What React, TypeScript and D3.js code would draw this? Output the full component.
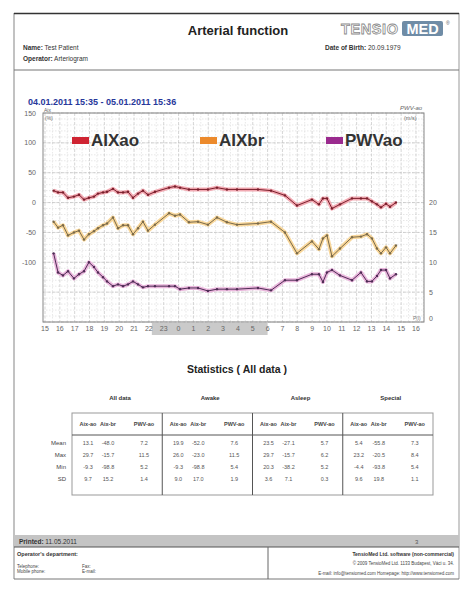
import React from "react";
import * as d3 from "d3";

// ---- Data ----
// hours since midnight of 04.01.2011
const times = [15.58, 15.88, 16.21, 16.55, 16.95, 17.29, 17.63, 17.96, 18.3, 18.57, 18.91, 19.18, 19.58, 19.92, 20.26, 20.59, 20.93, 21.27, 21.6, 21.94, 22.41, 23.36, 23.76, 24.1, 24.7, 25.31, 25.98, 26.59, 27.26, 27.94, 29.35, 30.23, 31.17, 31.98, 32.99, 33.46, 33.73, 34.0, 34.34, 34.88, 35.69, 36.29, 36.7, 37.03, 37.37, 37.64, 37.98, 38.25, 38.65];
const aixAo = [20, 17, 17, 8, 10, 13, 5, 8, 10, 15, 17, 18, 23, 17, 17, 18, 8, 15, 20, 13, 18, 25, 27, 25, 22, 22, 22, 25, 22, 22, 22, 20, 12, -5, 5, -3, 7, 7, -10, -3, 7, 7, 7, 2, -3, -8, -2, -7, 0];
const aixBr = [-32, -42, -38, -55, -50, -47, -62, -53, -48, -43, -38, -35, -25, -43, -38, -38, -53, -43, -32, -47, -37, -18, -22, -20, -33, -32, -37, -25, -33, -37, -35, -32, -50, -85, -65, -78, -60, -55, -90, -77, -58, -57, -53, -60, -77, -85, -75, -85, -72];
const pwvAo = [11.5, 8.3, 7.8, 8.5, 7.3, 8.0, 8.5, 10.0, 9.2, 8.3, 7.5, 6.8, 6.0, 6.3, 6.0, 6.3, 6.8, 6.3, 5.8, 6.0, 6.0, 6.0, 6.0, 5.5, 5.7, 5.7, 5.2, 5.5, 5.5, 5.5, 5.7, 5.3, 7.0, 7.0, 8.0, 8.0, 6.7, 8.3, 8.7, 7.8, 7.0, 8.3, 6.8, 6.8, 7.7, 8.7, 8.7, 7.3, 8.0];

const leftTicks = [150, 100, 50, 0, -50, -100];
const rightTicks = [20, 15, 10, 5, 0];
const hourTicks = d3.range(15, 41);
const nightBand = [22.2, 30.0];

const seriesNames = ["AIXao", "AIXbr", "PWVao"];
const statGroups = ["All data", "Awake", "Asleep", "Special"];
const statCols = ["Aix-ao", "Aix-br", "PWV-ao"];
const statRows = ["Mean", "Max", "Min", "SD"];
const statAllData = [["13.1", "-48.0", "7.2"], ["29.7", "-15.7", "11.5"], ["-9.3", "-98.8", "5.2"], ["9.7", "15.2", "1.4"]];
const statAwake = [["19.9", "-52.0", "7.6"], ["26.0", "-23.0", "11.5"], ["-9.3", "-98.8", "5.4"], ["9.0", "17.0", "1.9"]];
const statAsleep = [["23.5", "-27.1", "5.7"], ["29.7", "-15.7", "6.2"], ["20.3", "-38.2", "5.2"], ["3.6", "7.1", "0.3"]];
const statSpecial = [["5.4", "-55.8", "7.3"], ["23.2", "-20.5", "8.4"], ["-4.4", "-93.8", "5.4"], ["9.6", "19.8", "1.1"]];

const FONT = "'Liberation Sans', Arial, sans-serif";

export default function App() {
  const W = 476, H = 603;
  const pl = 43, pr = 424, pt = 113, pb = 322;
  const x = d3.scaleLinear().domain([14.865, 40.54]).range([pl, pr]);
  const yL = d3.scaleLinear().domain([-200, 150]).range([pb, pt]);
  const yR = d3.scaleLinear().domain([0, 35]).range([pb, pt]);

  const mk = (vals: number[], sc: d3.ScaleLinear<number, number>) =>
    d3.line<number>().x((_, i) => x(times[i])).y((v) => sc(v))(vals) || "";

  const series = [
    { vals: aixAo, sc: yL, halo: "#f2a9b2", line: "#7a1f2c", legend: "#cf2432" },
    { vals: aixBr, sc: yL, halo: "#f9d79a", line: "#7a6a4a", legend: "#ec8a2c" },
    { vals: pwvAo, sc: yR, halo: "#eab6dc", line: "#4f2c55", legend: "#9a2a8e" },
  ];
  const legendX = [72, 200, 326];

  const minorY = d3.range(-200, 151, 10);
  const majorY = d3.range(-200, 151, 50);
  const halfHours = d3.range(15, 40.6, 0.5);

  const groupStats = [statAllData, statAwake, statAsleep, statSpecial];
  const tl = 72, tr = 433, tt = 413, tb = 495, th = 435;
  const gw = (tr - tl) / 4;
  const colOff = [16, 36, 72];
  const rowY = [443, 455, 467, 479];

  return (
    <svg width={W} height={H} style={{ position: "absolute", left: 0, top: 0, background: "#fff" }} fontFamily={FONT}>
      <rect x={0} y={0} width={W} height={H} fill="#fff" />
      {/* page frame */}
      <line x1={14} x2={14} y1={13} y2={579} stroke="#999" strokeWidth={1.2} />
      <line x1={459} x2={459} y1={13} y2={579} stroke="#aaa" strokeWidth={1.2} />
      <line x1={14} x2={459} y1={13.5} y2={13.5} stroke="#333" strokeWidth={1.5} />
      <line x1={14} x2={459} y1={70} y2={70} stroke="#777" strokeWidth={1.2} />

      {/* header */}
      <text x={238} y={35} textAnchor="middle" fontSize={13} fontWeight="bold" fill="#222">Arterial function</text>
      <text x={341} y={34} fontSize={14.5} fontWeight="bold" fill="#fff" stroke="#8a8a8a" strokeWidth={0.8} letterSpacing={0.6}>TENSIO</text>
      <rect x={402} y={21} width={41} height={15} rx={2} fill="#6f8ca6" />
      <text x={422.5} y={34} textAnchor="middle" fontSize={14.5} fontWeight="bold" fill="#fff">MED</text>
      <text x={446} y={25} fontSize={5} fill="#555">®</text>
      <text x={23} y={50} fontSize={6.5} fill="#333"><tspan fontWeight="bold">Name:</tspan> Test Patient</text>
      <text x={23} y={61} fontSize={6.5} fill="#333"><tspan fontWeight="bold">Operator:</tspan> Arteriogram</text>
      <text x={325} y={50} fontSize={6.5} fill="#333"><tspan fontWeight="bold">Date of Birth:</tspan> 20.09.1979</text>

      {/* chart title */}
      <text x={28} y={105} fontSize={9} fontWeight="bold" fill="#27379a">04.01.2011 15:35 - 05.01.2011 15:36</text>

      {/* grid */}
      {minorY.map((v) => (
        <line key={"my" + v} x1={pl} x2={pr} y1={yL(v)} y2={yL(v)} stroke="#d6d6d6" strokeWidth={0.6} strokeDasharray="1.5,1.5" />
      ))}
      {halfHours.map((h) => (
        <line key={"hx" + h} x1={x(h)} x2={x(h)} y1={pt} y2={pb} stroke={Number.isInteger(h) ? "#c4c4c4" : "#dedede"} strokeWidth={0.7} strokeDasharray={Number.isInteger(h) ? "3,1.5" : "1.5,1.5"} />
      ))}
      {majorY.map((v) => (
        <line key={"My" + v} x1={pl} x2={pr} y1={yL(v)} y2={yL(v)} stroke="#bdbdbd" strokeWidth={0.7} strokeDasharray="3,1.5" />
      ))}
      <rect x={pl} y={pt} width={pr - pl} height={pb - pt} fill="none" stroke="#888" strokeWidth={1} />

      {/* axis labels */}
      <text x={44} y={112} fontSize={5} fill="#666">Aix</text>
      <text x={45} y={120} fontSize={5} fill="#666">(%)</text>
      <text x={400} y={110} fontSize={6} fill="#666" fontStyle="italic">PWV-ao</text>
      <text x={404} y={120} fontSize={5.5} fill="#666">(m/s)</text>
      {leftTicks.map((v) => (
        <text key={"lt" + v} x={36} y={yL(v) + 2.5} textAnchor="end" fontSize={7} fill="#666">{v}</text>
      ))}
      {rightTicks.map((v) => (
        <text key={"rt" + v} x={429} y={(v === 0 ? yR(v) - 4 : yR(v)) + 2.5} fontSize={7} fill="#666">{v}</text>
      ))}
      <text x={413} y={320} fontSize={5} fill="#777">P(l)</text>

      {/* night band and hour labels */}
      <rect x={x(nightBand[0])} y={323} width={x(nightBand[1]) - x(nightBand[0])} height={12} fill="#cacaca" />
      {hourTicks.map((h) => (
        <text key={"ht" + h} x={x(h)} y={331} textAnchor="middle" fontSize={7} fill="#666">{h % 24}</text>
      ))}

      {/* series */}
      {series.map((s, k) => (
        <g key={"s" + k}>
          <path d={mk(s.vals, s.sc)} fill="none" stroke={s.halo} strokeWidth={4} strokeLinejoin="round" />
          <path d={mk(s.vals, s.sc)} fill="none" stroke={s.line} strokeWidth={1} strokeLinejoin="round" />
          {s.vals.map((v, i) => (
            <circle key={i} cx={x(times[i])} cy={s.sc(v)} r={1.2} fill={s.line} />
          ))}
        </g>
      ))}

      {/* legend */}
      {seriesNames.map((n, k) => (
        <g key={"lg" + n}>
          <rect x={legendX[k]} y={137} width={17} height={7} fill={series[k].legend} />
          <text x={legendX[k] + 19} y={146} fontSize={17} fontWeight="bold" fill="#333">{n}</text>
        </g>
      ))}

      {/* statistics */}
      <text x={237} y={373} textAnchor="middle" fontSize={10.5} fontWeight="bold" fill="#222">Statistics ( All data )</text>
      {statGroups.map((g, k) => (
        <text key={"g" + g} x={tl + gw * k + 48} y={400} textAnchor="middle" fontSize={6} fontWeight="bold" fill="#333">{g}</text>
      ))}
      <rect x={tl} y={tt} width={tr - tl} height={tb - tt} fill="none" stroke="#999" strokeWidth={1} />
      <line x1={tl} x2={tr} y1={th} y2={th} stroke="#555" strokeWidth={1} />
      {[1, 2, 3].map((k) => (
        <line key={"gd" + k} x1={tl + gw * k} x2={tl + gw * k} y1={tt} y2={tb} stroke="#555" strokeWidth={1} />
      ))}
      {statGroups.map((g, k) => (
        <g key={"cols" + g}>
          {statCols.map((c, j) => (
            <text key={c} x={tl + gw * k + colOff[j]} y={426} textAnchor="middle" fontSize={5.5} fontWeight="bold" fill="#444">{c}</text>
          ))}
          {groupStats[k].map((row, r) =>
            row.map((val, j) => (
              <text key={r + "-" + j} x={tl + gw * k + colOff[j]} y={rowY[r] + 2} textAnchor="middle" fontSize={5.5} fill="#555">{val}</text>
            ))
          )}
        </g>
      ))}
      {statRows.map((r, i) => (
        <text key={"rl" + r} x={66} y={rowY[i] + 2} textAnchor="end" fontSize={6} fill="#444">{r}</text>
      ))}

      {/* footer */}
      <rect x={14} y={535} width={445} height={12} fill="#c4c4c4" />
      <line x1={14} x2={459} y1={547} y2={547} stroke="#555" strokeWidth={1} />
      <line x1={14} x2={459} y1={579} y2={579} stroke="#777" strokeWidth={1} />
      <line x1={268} x2={268} y1={547} y2={579} stroke="#666" strokeWidth={1} />
      <text x={19} y={544} fontSize={6.5} fill="#333"><tspan fontWeight="bold">Printed:</tspan> 11.05.2011</text>
      <text x={415} y={544} fontSize={6} fill="#555">3</text>
      <text x={17} y={556} fontSize={5.5} fontWeight="bold" fill="#333">Operator's department:</text>
      <text x={17} y={568} fontSize={4.5} fill="#444">Telephone:</text>
      <text x={82} y={568} fontSize={4.5} fill="#444">Fax:</text>
      <text x={17} y={573} fontSize={4.5} fill="#444">Mobile phone:</text>
      <text x={82} y={573} fontSize={4.5} fill="#444">E-mail:</text>
      <text x={454} y={556} textAnchor="end" fontSize={5} fontWeight="bold" fill="#333">TensioMed Ltd. software (non-commercial)</text>
      <text x={454} y={565} textAnchor="end" fontSize={4.5} fill="#444">© 2009 TensioMed Ltd. 1133 Budapest, Váci u. 34.</text>
      <text x={454} y={575} textAnchor="end" fontSize={4.5} fill="#444">E-mail: info@tensiomed.com    Homepage: http://www.tensiomed.com</text>
    </svg>
  );
}
